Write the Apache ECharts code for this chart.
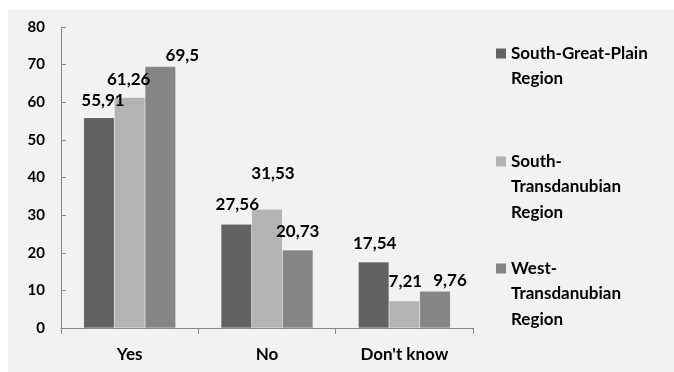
<!DOCTYPE html>
<html>
<head>
<meta charset="utf-8">
<script src="https://cdn.jsdelivr.net/npm/echarts@6/dist/echarts.min.js"></script>
<style>
    html, body { margin: 0; padding: 0; background: #ffffff; }
    #wrap { position: relative; width: 674px; height: 372px; }
    #chart { position: absolute; left: 8px; top: 10px; width: 666px; height: 362px; background: #f2f2f2; }
</style>
</head>
<body>
<div id="wrap"><div id="chart"></div></div>
<script>
// answers
var categories = ['Yes', 'No', "Don't know"];

// percentages per region
var southGreatPlain = [55.91, 27.56, 17.54];
var southTransdanubian = [61.26, 31.53, 7.21];
var westTransdanubian = [69.5, 20.73, 9.76];

var seriesNames = ['South-Great-Plain Region', 'South-Transdanubian Region', 'West-Transdanubian Region'];
var legendLines = [['South-Great-Plain', 'Region'], ['South-', 'Transdanubian', 'Region'], ['West-', 'Transdanubian', 'Region']];

var yTicks = [0, 10, 20, 30, 40, 50, 60, 70, 80];

function render_chart() {
    var colors = ['#626262', '#b3b3b3', '#858585'];
    var font = 'Lato, "DejaVu Sans", sans-serif';

    // label nudges to mimic where the original placed them
    var labelShift = [
        [[4, -5], [1, -7], [1, -6]],
        [[-1, -5], [6, -23], [1, -7]],
        [[22, 2], [0, -6], [15, 2]]
    ];

    function fmt(v) {
        return String(v).replace('.', ',');
    }

    function makeSeries(idx, values) {
        return {
            name: seriesNames[idx],
            type: 'bar',
            barGap: '0%',
            barCategoryGap: '33%',
            data: values.map(function (v, i) {
                return {
                    value: v,
                    label: { offset: labelShift[idx][i] }
                };
            }),
            itemStyle: { color: colors[idx], borderColor: 'rgba(255,255,255,0.25)', borderWidth: 0.5 },
            label: {
                show: true,
                position: 'top',
                distance: 4,
                fontFamily: font,
                fontWeight: 'bold',
                fontSize: 17,
                color: '#000',
                formatter: function (p) { return fmt(p.value); }
            }
        };
    }

    // legend: square marker sits on the first line, like the original
    var legendTops = [35, 143, 250];
    var legends = seriesNames.map(function (name, i) {
        var lines = legendLines[i].map(function (line, k) {
            return (k === 0 ? '{mk|}{gap|}' : '{ind|}') + '{t|' + line + '}';
        });
        return {
            data: [name],
            left: 482,
            top: legendTops[i],
            padding: 0,
            orient: 'vertical',
            itemWidth: 0,
            itemHeight: 0,
            itemGap: 0,
            formatter: function () { return lines.join('\n'); },
            textStyle: {
                rich: {
                    mk: { width: 10, height: 10, backgroundColor: colors[i] },
                    gap: { width: 5 },
                    ind: { width: 15 },
                    t: {
                        fontFamily: font,
                        fontWeight: 'bold',
                        fontSize: 17,
                        lineHeight: 25.5,
                        color: '#000'
                    }
                }
            },
            selectedMode: false
        };
    });

    var dom = document.getElementById('chart');
    var myChart = echarts.init(dom, null, { renderer: 'canvas' });
    var option = {
        animation: false,
        backgroundColor: '#f2f2f2',
        grid: {
            left: 53,
            right: 201,
            top: 17,
            bottom: 44
        },
        legend: legends,
        xAxis: {
            type: 'category',
            data: categories,
            axisLine: { lineStyle: { color: '#868686', width: 1 } },
            axisTick: { show: true, length: 6, lineStyle: { color: '#868686' } },
            axisLabel: {
                margin: 18,
                fontFamily: font,
                fontWeight: 'bold',
                fontSize: 17,
                color: '#000'
            }
        },
        yAxis: {
            type: 'value',
            min: yTicks[0],
            max: yTicks[yTicks.length - 1],
            interval: 10,
            axisLine: { show: true, lineStyle: { color: '#868686', width: 1 } },
            axisTick: { show: true, inside: true, length: 5, lineStyle: { color: '#868686' } },
            splitLine: { show: false },
            axisLabel: {
                margin: 16,
                fontFamily: font,
                fontWeight: 'bold',
                fontSize: 15,
                color: '#000'
            }
        },
        series: [
            makeSeries(0, southGreatPlain),
            makeSeries(1, southTransdanubian),
            makeSeries(2, westTransdanubian)
        ]
    };
    myChart.setOption(option);
}

render_chart();
</script>
</body>
</html>
